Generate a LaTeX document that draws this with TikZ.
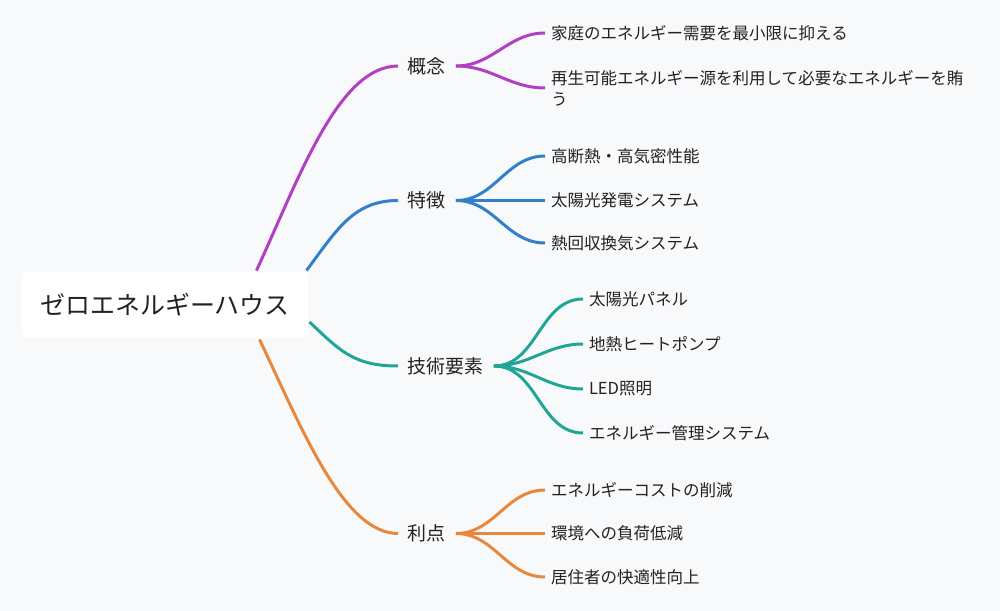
\documentclass[tikz,border=0pt]{standalone}
\usepackage{fontspec}
\setmainfont{Noto Sans CJK JP}
\definecolor{haikei}{RGB}{248,249,251}
\definecolor{moji}{RGB}{34,34,34}
\definecolor{murasaki}{RGB}{178,62,196}
\definecolor{ao}{RGB}{50,128,204}
\definecolor{midori}{RGB}{32,166,148}
\definecolor{daidai}{RGB}{230,136,62}
\begin{document}
\begin{tikzpicture}[x=0.02cm, y=-0.02cm, line width=1.7pt,
    root/.style={fill=white, rounded corners=2.5pt, minimum width=5.72cm, minimum height=1.32cm,
        text=moji, font=\fontsize{14.2}{17}\selectfont},
    branch/.style={anchor=west, inner xsep=0.17cm, inner ysep=2pt, text=moji,
        font=\fontsize{10.8}{13}\selectfont},
    leaf/.style={anchor=west, inner xsep=0.09cm, inner ysep=1pt, align=left, text=moji,
        font=\fontsize{9.4}{11.9}\selectfont},
    fork/.style={out=0, in=180}]
    % 1. 背景 (余白ごと固定)
    \fill[haikei] (0,0) rectangle (1000,611);
    \useasboundingbox (0,0) rectangle (1000,611);

    % 2. 中心ノード
    \node[root] (zeh) at (165,305) {ゼロエネルギーハウス};

    % 3. 枝ノード
    \node[branch] (gainen)  at (398,66)    {概念};
    \node[branch] (tokucho) at (398,200.5) {特徴};
    \node[branch] (gijutsu) at (398,366)   {技術要素};
    \node[branch] (riten)   at (398,533.5) {利点};

    % 4. 葉ノード
    \node[leaf] (g1) at (545,33)    {家庭のエネルギー需要を最小限に抑える};
    \node[leaf] (g2) at (545,88)    {再生可能エネルギー源を利用して必要なエネルギーを賄\\う};
    \node[leaf] (t1) at (545,156)   {高断熱・高気密性能};
    \node[leaf] (t2) at (545,200.5) {太陽光発電システム};
    \node[leaf] (t3) at (545,243)   {熱回収換気システム};
    \node[leaf] (k1) at (583,299)   {太陽光パネル};
    \node[leaf] (k2) at (583,344)   {地熱ヒートポンプ};
    \node[leaf] (k3) at (583,389)   {LED照明};
    \node[leaf] (k4) at (583,433)   {エネルギー管理システム};
    \node[leaf] (r1) at (545,490)   {エネルギーコストの削減};
    \node[leaf] (r2) at (545,533.5) {環境への負荷低減};
    \node[leaf] (r3) at (545,577)   {居住者の快適性向上};

    % 5. 中心から枝へ
    \draw[murasaki] ([xshift=-1.06cm]zeh.north east) .. controls +(42,-91) and +(-60,0) .. (gainen.west);
    \draw[ao] ([xshift=-0.06cm]zeh.north east) .. controls +(30,-40) and +(-45,0) .. (tokucho.west);
    \draw[midori] ([yshift=-0.34cm]zeh.east) .. controls +(30,28) and +(-45,0) .. (gijutsu.west);
    \draw[daidai] ([xshift=-1cm]zeh.south east) .. controls +(42,88) and +(-55,0) .. (riten.west);

    % 6. 枝から葉へ
    \foreach \c in {g1,g2} \draw[murasaki] (gainen.east) to[fork] (\c.west);
    \foreach \c in {t1,t2,t3} \draw[ao] (tokucho.east) to[fork] (\c.west);
    \foreach \c in {k1,k2,k3,k4} \draw[midori] (gijutsu.east) to[fork] (\c.west);
    \foreach \c in {r1,r2,r3} \draw[daidai] (riten.east) to[fork] (\c.west);
\end{tikzpicture}
\end{document}
